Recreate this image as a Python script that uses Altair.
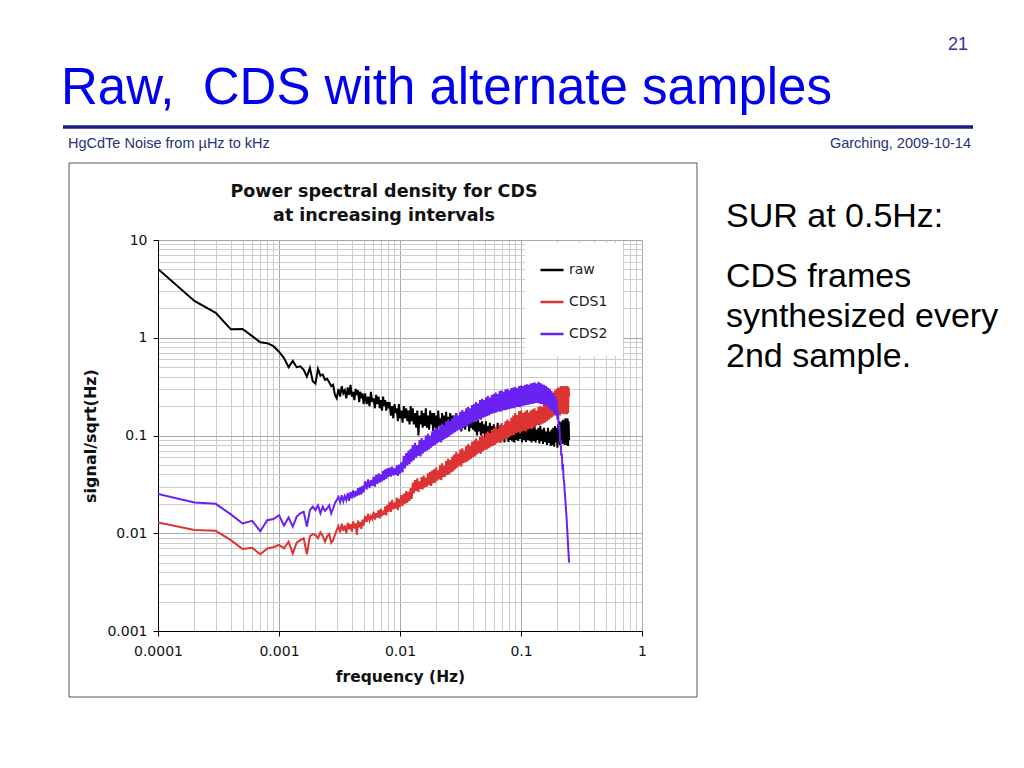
import altair as alt
import pandas as pd

# ---------------- data ----------------
SERIES = ["raw", "CDS1", "CDS2"]
COLORS = ["#000000", "#dd3333", "#6a22f2"]

F_LO = [0.0001, 0.0002, 0.0003, 0.0004, 0.0005, 0.0006, 0.0007, 0.0008, 0.0009, 0.0010,
        0.0011, 0.0012, 0.0013, 0.0014, 0.0015, 0.0016, 0.0017, 0.0018, 0.0019, 0.0020,
        0.0021, 0.0022, 0.0023, 0.0024, 0.0025, 0.0026, 0.0027, 0.0028, 0.0029, 0.0030]

RAW_LO = [5.05, 2.38, 1.80, 1.22, 1.23, 1.04, 0.90, 0.88, 0.82, 0.72,
          0.62, 0.50, 0.58, 0.50, 0.51, 0.47, 0.40, 0.49, 0.36, 0.34,
          0.48, 0.41, 0.42, 0.37, 0.38, 0.35, 0.32, 0.33, 0.26, 0.24]
CDS1_LO = [0.0129, 0.0108, 0.0106, 0.0085, 0.0069, 0.0071, 0.0061, 0.0070, 0.0072, 0.0076,
           0.0070, 0.0082, 0.0062, 0.0080, 0.0085, 0.0089, 0.0061, 0.0093, 0.0098, 0.0096,
           0.0089, 0.0102, 0.0094, 0.0082, 0.0093, 0.0098, 0.0080, 0.0085, 0.0096, 0.0108]
CDS2_LO = [0.0252, 0.0206, 0.0200, 0.0156, 0.0126, 0.0134, 0.0105, 0.0136, 0.0140, 0.0153,
           0.0120, 0.0145, 0.0117, 0.0148, 0.0160, 0.0166, 0.0117, 0.0172, 0.0187, 0.0172,
           0.0193, 0.0160, 0.0187, 0.0170, 0.0180, 0.0193, 0.0160, 0.0180, 0.0204, 0.0219]

F_HI = [
    0.0031, 0.0032, 0.0033, 0.0034, 0.0035, 0.0036, 0.0037, 0.0038, 0.0039, 0.004,
    0.0041, 0.0042, 0.0043, 0.0044, 0.0045, 0.0046, 0.0047, 0.0048, 0.0049, 0.005,
    0.00515, 0.0053, 0.00545, 0.0056, 0.00575, 0.0059, 0.00605, 0.0062, 0.00635, 0.0065,
    0.00665, 0.0068, 0.00695, 0.0071, 0.00725, 0.0074, 0.00755, 0.0077, 0.00785, 0.008,
    0.0082, 0.0084, 0.0086, 0.0088, 0.009, 0.0092, 0.0094, 0.0096, 0.0098, 0.01,
    0.01025, 0.0105, 0.01075, 0.011, 0.01125, 0.0115, 0.01175, 0.012, 0.01225, 0.0125,
    0.01275, 0.013, 0.0133, 0.0136, 0.0139, 0.0142, 0.0145, 0.0148, 0.0151, 0.0154,
    0.0157, 0.016, 0.01635, 0.0167, 0.01705, 0.0174, 0.01775, 0.0181, 0.01845, 0.0188,
    0.01915, 0.0195, 0.0199, 0.0203, 0.0207, 0.0211, 0.0215, 0.0219, 0.0223, 0.0227,
    0.02315, 0.0236, 0.02405, 0.0245, 0.025, 0.0255, 0.026, 0.0265, 0.027, 0.0275,
    0.02805, 0.0286, 0.02915, 0.0297, 0.0303, 0.0309, 0.0315, 0.0321, 0.0327, 0.0333,
    0.03395, 0.0346, 0.03525, 0.0359, 0.0366, 0.0373, 0.038, 0.0387, 0.03945, 0.0402,
    0.04095, 0.0417, 0.0425, 0.0433, 0.04415, 0.045, 0.04585, 0.0467, 0.0476, 0.0485,
    0.0494, 0.0503, 0.05125, 0.0522, 0.0532, 0.0542, 0.05525, 0.0563, 0.05735, 0.0584,
    0.0595, 0.0606, 0.06175, 0.0629, 0.0641, 0.0653, 0.06655, 0.0678, 0.0691, 0.0704,
    0.0717, 0.073, 0.0744, 0.0758, 0.07725, 0.0787, 0.0802, 0.0817, 0.08325, 0.0848,
    0.0864, 0.088, 0.08965, 0.0913, 0.09305, 0.0948, 0.0966, 0.0984, 0.1002, 0.102,
    0.104, 0.106, 0.108, 0.11, 0.112, 0.114, 0.116, 0.118, 0.12, 0.122,
    0.1245, 0.127, 0.1295, 0.132, 0.1345, 0.137, 0.1395, 0.142, 0.1445, 0.147,
    0.1495, 0.152, 0.155, 0.158, 0.161, 0.164, 0.167, 0.17, 0.173, 0.176,
    0.179, 0.182, 0.185, 0.188, 0.191, 0.194, 0.197, 0.2, 0.2025, 0.205,
    0.2075, 0.21, 0.2125, 0.215, 0.2175, 0.22, 0.2225, 0.225, 0.2275, 0.23,
    0.2325, 0.235, 0.2375, 0.24, 0.2425, 0.245, 0.2475, 0.25,
]

RAW_HI = [
    0.30, 0.25, 0.32, 0.27, 0.29, 0.24, 0.31, 0.26, 0.33, 0.25, 0.28, 0.23, 0.30, 0.26, 0.29, 0.22, 0.28, 0.24, 0.27, 0.21,
    0.27, 0.21, 0.25, 0.20, 0.28, 0.22, 0.24, 0.19, 0.26, 0.21, 0.25, 0.19, 0.23, 0.18, 0.25, 0.20, 0.23, 0.18, 0.22, 0.19,
    0.22, 0.16, 0.20, 0.15, 0.21, 0.17, 0.19, 0.14, 0.21, 0.15, 0.18, 0.135, 0.20, 0.15, 0.19, 0.14, 0.18, 0.13, 0.20, 0.14,
    0.19, 0.13, 0.17, 0.12, 0.18, 0.10, 0.16, 0.13, 0.18, 0.12, 0.17, 0.125, 0.19, 0.12, 0.16, 0.115, 0.18, 0.13, 0.17, 0.11,
    0.17, 0.12, 0.16, 0.11, 0.18, 0.125, 0.15, 0.115, 0.17, 0.12, 0.16, 0.10, 0.175, 0.12, 0.155, 0.115, 0.17, 0.12, 0.16, 0.11,
    0.16, 0.12, 0.17, 0.115, 0.15, 0.125, 0.165, 0.11, 0.16, 0.12, 0.155, 0.115, 0.17, 0.125, 0.15, 0.11, 0.16, 0.12, 0.145, 0.115,
    0.15, 0.11, 0.14, 0.10, 0.145, 0.11, 0.135, 0.10, 0.14, 0.105, 0.13, 0.095, 0.14, 0.10, 0.125, 0.095, 0.135, 0.10, 0.125, 0.09,
    0.13, 0.092, 0.12, 0.088, 0.135, 0.095, 0.12, 0.087, 0.125, 0.09, 0.115, 0.085, 0.13, 0.092, 0.12, 0.086, 0.125, 0.09, 0.115, 0.087,
    0.12, 0.085, 0.13, 0.09, 0.115, 0.088, 0.125, 0.092, 0.12, 0.085, 0.13, 0.09, 0.115, 0.086, 0.125, 0.09, 0.12, 0.088, 0.13, 0.085,
    0.12, 0.088, 0.125, 0.085, 0.115, 0.09, 0.12, 0.083, 0.125, 0.088, 0.115, 0.082, 0.12, 0.086, 0.11, 0.08, 0.12, 0.084, 0.11, 0.078,
    0.115, 0.08, 0.12, 0.077, 0.125, 0.085, 0.12, 0.075, 0.13, 0.085, 0.14, 0.08, 0.135, 0.09, 0.14, 0.082, 0.145, 0.085, 0.14, 0.08,
    0.15, 0.085, 0.145, 0.08, 0.15, 0.078, 0.14, 0.09,
]

CDS1_HI = [
    0.0118, 0.0102, 0.0125, 0.0106, 0.0120, 0.0100, 0.0128, 0.0110, 0.0124, 0.0104, 0.0132, 0.0112, 0.0126, 0.0096, 0.0135, 0.0115, 0.0130, 0.0110, 0.0138, 0.0120,
    0.0150, 0.0130, 0.0158, 0.0135, 0.0150, 0.0140, 0.0165, 0.0138, 0.0160, 0.0145, 0.0172, 0.0142, 0.0178, 0.0150, 0.0170, 0.0155, 0.0188, 0.0152, 0.0195, 0.0165,
    0.0210, 0.0165, 0.0220, 0.0175, 0.0205, 0.0180, 0.0232, 0.0172, 0.0225, 0.0185, 0.0245, 0.0190, 0.0255, 0.0200, 0.0270, 0.0205, 0.0265, 0.0215, 0.0290, 0.0225,
    0.0330, 0.0255, 0.0350, 0.0270, 0.0365, 0.0265, 0.0340, 0.0285, 0.0375, 0.0280, 0.0390, 0.0295, 0.0370, 0.0300, 0.0410, 0.0310, 0.0425, 0.0305, 0.0440, 0.0325,
    0.0450, 0.0330, 0.0470, 0.0345, 0.0440, 0.0355, 0.0500, 0.0350, 0.0520, 0.0375, 0.0490, 0.0380, 0.0550, 0.0395, 0.0580, 0.0400, 0.0560, 0.0420, 0.0610, 0.0430,
    0.0640, 0.0450, 0.0680, 0.0470, 0.0650, 0.0490, 0.0720, 0.0480, 0.0740, 0.0520, 0.0700, 0.0530, 0.0780, 0.0540, 0.0820, 0.0560, 0.0790, 0.0580, 0.0860, 0.0600,
    0.0890, 0.0610, 0.0930, 0.0640, 0.0880, 0.0660, 0.0970, 0.0650, 0.1010, 0.0690, 0.0960, 0.0710, 0.1050, 0.0720, 0.1100, 0.0740, 0.1060, 0.0770, 0.1140, 0.0780,
    0.1180, 0.0800, 0.1230, 0.0830, 0.1170, 0.0850, 0.1290, 0.0840, 0.1340, 0.0880, 0.1280, 0.0910, 0.1400, 0.0920, 0.1460, 0.0950, 0.1400, 0.0980, 0.1520, 0.1000,
    0.1600, 0.1020, 0.1700, 0.1060, 0.1620, 0.1080, 0.1780, 0.1050, 0.1800, 0.1100, 0.1700, 0.1120, 0.1760, 0.1100, 0.1820, 0.1150, 0.1720, 0.1180, 0.1800, 0.1160,
    0.1850, 0.1200, 0.1900, 0.1250, 0.1800, 0.1280, 0.1950, 0.1260, 0.2000, 0.1300, 0.1950, 0.1330, 0.2100, 0.1350, 0.2200, 0.1400, 0.2300, 0.1450, 0.2400, 0.1500,
    0.2600, 0.1550, 0.2750, 0.1600, 0.2900, 0.1620, 0.3000, 0.1580, 0.3100, 0.1650, 0.3050, 0.1600, 0.3200, 0.1700, 0.3150, 0.1650, 0.3200, 0.1700, 0.3100, 0.1650,
    0.3200, 0.1700, 0.3150, 0.1650, 0.3200, 0.1700, 0.3100, 0.2500,
]

CDS2_HI = [
    0.0235, 0.0208, 0.0245, 0.0212, 0.0240, 0.0218, 0.0258, 0.0215, 0.0265, 0.0228, 0.0275, 0.0232, 0.0270, 0.0240, 0.0290, 0.0245, 0.0298, 0.0250, 0.0305, 0.0262,
    0.0340, 0.0280, 0.0355, 0.0290, 0.0350, 0.0305, 0.0380, 0.0300, 0.0395, 0.0320, 0.0410, 0.0330, 0.0400, 0.0340, 0.0435, 0.0350, 0.0450, 0.0360, 0.0460, 0.0375,
    0.0470, 0.0380, 0.0480, 0.0390, 0.0460, 0.0395, 0.0495, 0.0385, 0.0505, 0.0405, 0.0530, 0.0420, 0.0620, 0.0460, 0.0660, 0.0490, 0.0700, 0.0510, 0.0730, 0.0540,
    0.0800, 0.0560, 0.0840, 0.0590, 0.0800, 0.0620, 0.0900, 0.0610, 0.0940, 0.0650, 0.0900, 0.0680, 0.1000, 0.0700, 0.1040, 0.0720, 0.1000, 0.0750, 0.1100, 0.0780,
    0.1150, 0.0800, 0.1200, 0.0830, 0.1150, 0.0860, 0.1280, 0.0850, 0.1320, 0.0900, 0.1280, 0.0930, 0.1400, 0.0950, 0.1450, 0.0980, 0.1400, 0.1020, 0.1500, 0.1050,
    0.1600, 0.1080, 0.1680, 0.1120, 0.1600, 0.1150, 0.1750, 0.1130, 0.1820, 0.1200, 0.1760, 0.1240, 0.1900, 0.1250, 0.1960, 0.1300, 0.1900, 0.1330, 0.2050, 0.1360,
    0.2100, 0.1380, 0.2200, 0.1420, 0.2120, 0.1460, 0.2300, 0.1450, 0.2380, 0.1520, 0.2300, 0.1550, 0.2450, 0.1580, 0.2550, 0.1600, 0.2450, 0.1650, 0.2600, 0.1680,
    0.2650, 0.1700, 0.2750, 0.1720, 0.2650, 0.1760, 0.2850, 0.1750, 0.2900, 0.1800, 0.2800, 0.1820, 0.2950, 0.1830, 0.3000, 0.1860, 0.2900, 0.1880, 0.3050, 0.1900,
    0.3100, 0.1900, 0.3150, 0.1950, 0.3050, 0.1960, 0.3200, 0.1950, 0.3250, 0.2000, 0.3200, 0.2020, 0.3300, 0.2050, 0.3350, 0.2060, 0.3300, 0.2080, 0.3400, 0.2100,
    0.3450, 0.2120, 0.3500, 0.2150, 0.3400, 0.2150, 0.3550, 0.2120, 0.3450, 0.2100, 0.3350, 0.2080, 0.3300, 0.2030, 0.3200, 0.1980, 0.3100, 0.1920, 0.3000, 0.1850,
    0.2850, 0.1780, 0.2700, 0.1700, 0.2550, 0.1600, 0.2350, 0.1450, 0.1800, 0.1150, 0.1300, 0.0850, 0.0900, 0.0620, 0.0650, 0.0470, 0.0480, 0.0360, 0.0330, 0.0260,
    0.0220, 0.0180, 0.0150, 0.0120, 0.0095, 0.0075, 0.0060, 0.0050,
]

X_GRID = [1e-4, 2e-4, 3e-4, 4e-4, 5e-4, 6e-4, 7e-4, 8e-4, 9e-4,
          1e-3, 2e-3, 3e-3, 4e-3, 5e-3, 6e-3, 7e-3, 8e-3, 9e-3,
          0.01, 0.02, 0.03, 0.04, 0.05, 0.06, 0.07, 0.08, 0.09,
          0.1, 0.2, 0.3, 0.4, 0.5, 0.6, 0.7, 0.8, 0.9, 1]
Y_GRID = [0.001, 0.002, 0.003, 0.004, 0.005, 0.006, 0.007, 0.008, 0.009,
          0.01, 0.02, 0.03, 0.04, 0.05, 0.06, 0.07, 0.08, 0.09,
          0.1, 0.2, 0.3, 0.4, 0.5, 0.6, 0.7, 0.8, 0.9,
          1, 2, 3, 4, 5, 6, 7, 8, 9, 10]

assert len(F_HI) == len(RAW_HI) == len(CDS1_HI) == len(CDS2_HI), (
    len(F_HI), len(RAW_HI), len(CDS1_HI), len(CDS2_HI))

F_ALL = F_LO + F_HI
VALUES = {"raw": RAW_LO + RAW_HI, "CDS1": CDS1_LO + CDS1_HI, "CDS2": CDS2_LO + CDS2_HI}
rows = []
for s in SERIES:
    for f, v in zip(F_ALL, VALUES[s]):
        rows.append({"series": s, "f": f, "v": v})
df = pd.DataFrame(rows)

# ---------------- chart ----------------
DECADE = "abs(log(datum.value)/LN10 - round(log(datum.value)/LN10)) < 1e-6"
AX_FONT = "DejaVu Sans"

x_axis = alt.Axis(
    values=X_GRID, format="~g", labelExpr=f"({DECADE}) ? datum.label : ''",
    grid=True, gridColor={"condition": {"test": DECADE, "value": "#a8a8a8"}, "value": "#cdcdcd"},
    tickOpacity={"condition": {"test": DECADE, "value": 1}, "value": 0},
    tickColor="#000", tickSize=5, domainColor="#000", labelFont=AX_FONT, labelFontSize=14,
    labelColor="#111", labelPadding=8, title="frequency (Hz)", titleFont=AX_FONT,
    titleFontSize=15.5, titleFontWeight="bold", titleColor="#111", titlePadding=11,
    labelFlush=False, labelOverlap=False,
)
y_axis = alt.Axis(
    values=Y_GRID, format="~g", labelExpr=f"({DECADE}) ? datum.label : ''",
    grid=True, gridColor={"condition": {"test": DECADE, "value": "#a8a8a8"}, "value": "#cdcdcd"},
    tickOpacity={"condition": {"test": DECADE, "value": 1}, "value": 0},
    tickColor="#000", tickSize=5, domainColor="#000", labelFont=AX_FONT, labelFontSize=14,
    labelColor="#111", labelPadding=6, title="signal/sqrt(Hz)", titleFont=AX_FONT,
    titleFontSize=16, titleFontWeight="bold", titleColor="#111", titlePadding=8,
    labelFlush=False, labelOverlap=False,
)

lines = alt.Chart(df).mark_line(strokeWidth=2, clip=True).encode(
    x=alt.X("f:Q", scale=alt.Scale(type="log", domain=[1e-4, 1], nice=False), axis=x_axis),
    y=alt.Y("v:Q", scale=alt.Scale(type="log", domain=[1e-3, 10], nice=False), axis=y_axis),
    color=alt.Color(
        "series:N",
        scale=alt.Scale(domain=SERIES, range=COLORS),
        sort=SERIES,
        legend=alt.Legend(
            title=None, orient="none", legendX=367, legendY=3, fillColor="white",
            padding=14, symbolType="stroke", symbolSize=529, symbolStrokeWidth=2.5,
            labelFont=AX_FONT, labelFontSize=14, labelColor="#222", rowPadding=12,
            labelOffset=4, strokeColor="white",
        ),
    ),
    detail="series:N",
)

one = pd.DataFrame({"k": [0]})

frame = alt.Chart(one).mark_rect(filled=False, stroke="#555555", strokeWidth=1).encode(
    x=alt.value(-89), x2=alt.value(539), y=alt.value(-77), y2=alt.value(457)
)

blue_rule = alt.Chart(one).mark_rule(color="#1c1c84", strokeWidth=3.5).encode(
    x=alt.value(-95), x2=alt.value(815), y=alt.value(-113)
)


def txt(text, x, y, **kw):
    return alt.Chart(one).mark_text(text=text, **kw).encode(x=alt.value(x), y=alt.value(y))


TITLE = "Raw,\u00a0 CDS with alternate samples"

texts = [
    txt("21", 810, -190, align="right", baseline="alphabetic", font="Liberation Sans",
        fontSize=18, color="#333399"),
    txt(TITLE, -97, -136, align="left", baseline="alphabetic",
        font="Liberation Sans", fontSize=51, color="#0000ee"),
    txt("HgCdTe Noise from µHz to kHz", -90, -92, align="left", baseline="alphabetic",
        font="Liberation Sans", fontSize=14.5, color="#26337a"),
    txt("Garching, 2009-10-14", 813, -92, align="right", baseline="alphabetic",
        font="Liberation Sans", fontSize=14.5, color="#26337a"),
    txt("SUR at 0.5Hz:", 568, -13, align="left", baseline="alphabetic",
        font="Liberation Sans", fontSize=34, color="#000"),
    txt("CDS frames", 568, 47, align="left", baseline="alphabetic",
        font="Liberation Sans", fontSize=34, color="#000"),
    txt("synthesized every", 568, 87, align="left", baseline="alphabetic",
        font="Liberation Sans", fontSize=34, color="#000"),
    txt("2nd sample.", 568, 127, align="left", baseline="alphabetic",
        font="Liberation Sans", fontSize=34, color="#000"),
    txt("Power spectral density for CDS", 226, -48, align="center", baseline="middle",
        font=AX_FONT, fontSize=17.5, fontWeight="bold", color="#111"),
    txt("at increasing intervals", 226, -24, align="center", baseline="middle",
        font=AX_FONT, fontSize=17.5, fontWeight="bold", color="#111"),
]

chart = alt.layer(frame, blue_rule, lines, *texts).properties(
    width=484, height=391,
    padding={"left": 150, "top": 232, "right": 374, "bottom": 129},
    autosize=alt.AutoSizeParams(type="none"),
    background="white",
).configure_view(stroke=None)

chart.save("out.html", embed_options={"renderer": "svg", "actions": False})
